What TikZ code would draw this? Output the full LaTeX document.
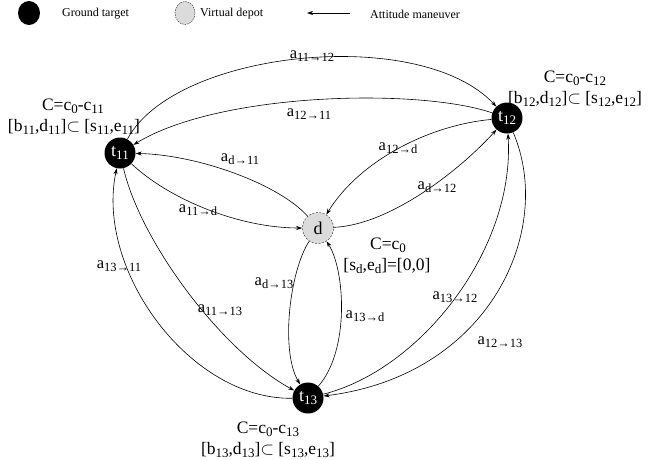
\documentclass[tikz,border=0pt]{standalone}
\usepackage{fontspec}
\setmainfont{Liberation Serif}
\usetikzlibrary{arrows.meta,shapes.geometric}
\def\sbsz{12.5}
\newcommand\sbs[1]{\raisebox{-0.2em}{\fontsize{\sbsz}{\sbsz}\selectfont #1}}
\begin{document}
\begin{tikzpicture}[x=1pt,y=-1pt,
  tnode/.style={circle,fill=black,minimum size=31pt,inner sep=0pt,text=white,font=\fontsize{18}{18}\selectfont\def\sbsz{13}},
  dnode/.style={circle,fill=gray!28,draw=black!75,dash pattern=on 2pt off 1.5pt,line width=0.5pt,minimum size=31pt,inner sep=0pt,font=\fontsize{18}{18}\selectfont},
  arr/.style={-{Stealth[length=6pt,width=4pt]},line width=0.6pt},
  elab/.style={font=\fontsize{16.5}{16.5}\selectfont\def\sbsz{12.5},inner sep=0pt},
  clab/.style={font=\fontsize{17.5}{17.5}\selectfont\def\sbsz{13},anchor=base,inner sep=0pt},
  leg/.style={font=\fontsize{12}{12}\selectfont,anchor=west,inner sep=0pt}]
\useasboundingbox (0,0) rectangle (648,459);

% legend
\node[ellipse,fill=black,minimum width=22pt,minimum height=24pt,inner sep=0pt] (lg1) at (29,13) {};
\node[leg] (lg1t) at (62,14) {Ground target};
\node[ellipse,fill=gray!28,draw=black!75,dash pattern=on 1.5pt off 1pt,line width=0.5pt,minimum width=20pt,minimum height=23pt,inner sep=0pt] (lg2) at (185,13) {};
\node[leg] (lg2t) at (200,14) {Virtual depot};
\coordinate (la1) at (350,13);
\coordinate (la2) at (307,13);
\draw[arr] (la1) -- (la2);
\node[leg] (lg3t) at (370,14) {Attitude maneuver};

% nodes
\node[tnode] (t11) at (120,153) {t\sbs{11}};
\node[tnode] (t12) at (507,118) {t\sbs{12}};
\node[dnode] (d) at (318,228) {d};
\node[tnode] (t13) at (308,398) {t\sbs{13}};

% node annotations
\node[clab] (c11a) at (73,110) {C=c\sbs{0}-c\sbs{11}};
\node[clab] (c11b) at (74,131) {[b\sbs{11},d\sbs{11}]$\subset$ [s\sbs{11},e\sbs{11}]};
\node[clab] (c12a) at (575,82) {C=c\sbs{0}-c\sbs{12}};
\node[clab] (c12b) at (575,103) {[b\sbs{12},d\sbs{12}]$\subset$ [s\sbs{12},e\sbs{12}]};
\node[clab] (cda) at (388,249) {C=c\sbs{0}};
\node[clab] (cdb) at (387,270) {[s\sbs{d},e\sbs{d}]=[0,0]};
\node[clab] (c13a) at (268,433) {C=c\sbs{0}-c\sbs{13}};
\node[clab] (c13b) at (268,454) {[b\sbs{13},d\sbs{13}]$\subset$ [s\sbs{13},e\sbs{13}]};

% edges t11 <-> t12
\draw[arr] (t11) .. controls (175,50) and (420,25) .. (t12);
\draw[arr] (t12) .. controls (420,88) and (220,92) .. (t11);
% t11 <-> d
\draw[arr] (d) .. controls (280,185) and (200,155) .. (t11);
\draw[arr] (t11) .. controls (170,200) and (240,228) .. (d);
% t12 <-> d
\draw[arr] (t12) .. controls (430,125) and (360,160) .. (d);
\draw[arr] (d) .. controls (390,225) and (460,170) .. (t12);
% d <-> t13
\draw[arr] (d) .. controls (290,270) and (280,350) .. (t13);
\draw[arr] (t13) .. controls (350,350) and (345,270) .. (d);
% t11 <-> t13
\draw[arr] (t13) .. controls (190,400) and (95,270) .. (t11);
\draw[arr] (t11) .. controls (140,240) and (220,350) .. (t13);
% t12 <-> t13
\draw[arr] (t13) .. controls (420,370) and (515,250) .. (t12);
\draw[arr] (t12) .. controls (555,230) and (490,375) .. (t13);

% edge labels
\node[elab] (e1) at (312,56) {a\sbs{11→12}};
\node[elab] (e2) at (309,114) {a\sbs{12→11}};
\node[elab] (e3) at (240,159) {a\sbs{d→11}};
\node[elab] (e4) at (198,210) {a\sbs{11→d}};
\node[elab] (e5) at (398,148) {a\sbs{12→d}};
\node[elab] (e6) at (437,187) {a\sbs{d→12}};
\node[elab] (e7) at (274,283) {a\sbs{d→13}};
\node[elab] (e8) at (365,316) {a\sbs{13→d}};
\node[elab] (e9) at (119,266) {a\sbs{13→11}};
\node[elab] (e10) at (220,310) {a\sbs{11→13}};
\node[elab] (e11) at (455,297) {a\sbs{13→12}};
\node[elab] (e12) at (500,342) {a\sbs{12→13}};
\end{tikzpicture}
\end{document}
